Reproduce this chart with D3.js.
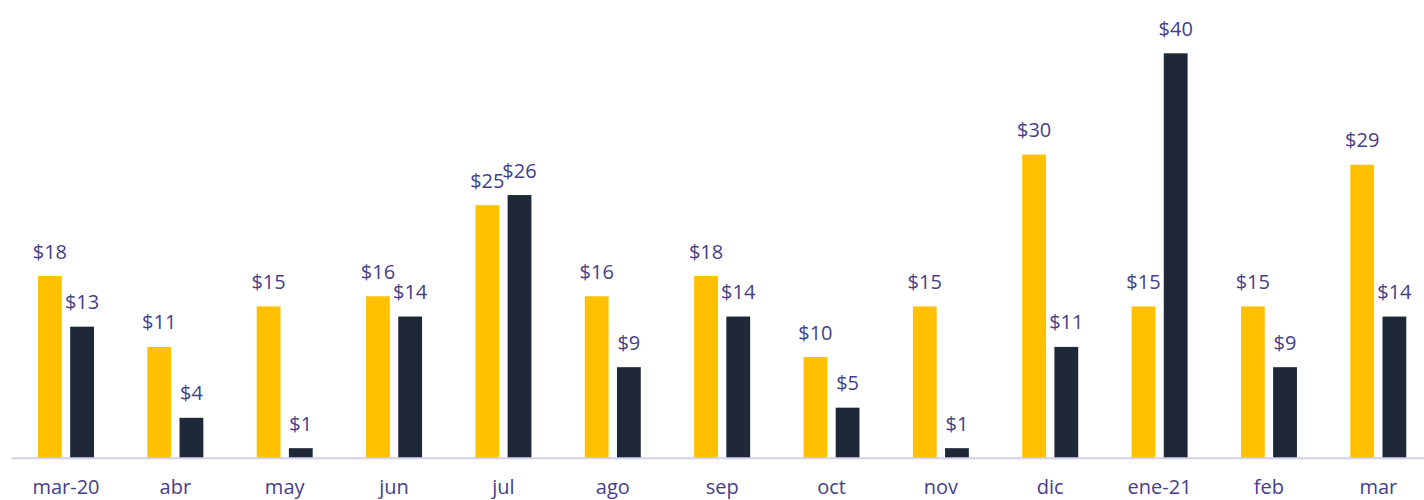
<!DOCTYPE html>
<html>
<head>
<meta charset="utf-8">
<script src="https://cdn.jsdelivr.net/npm/d3@7"></script>
<style>
  html, body { margin: 0; padding: 0; background: #ffffff; }
  svg { display: block; }
  text { font-family: "Open Sans", sans-serif; }
</style>
</head>
<body>
<svg id="chart" width="1424" height="500"></svg>
<script>
const categories = ["mar-20", "abr", "may", "jun", "jul", "ago", "sep", "oct", "nov", "dic", "ene-21", "feb", "mar"];
const seriesA = [18, 11, 15, 16, 25, 16, 18, 10, 15, 30, 15, 15, 29];
const seriesB = [13, 4, 1, 14, 26, 9, 14, 5, 1, 11, 40, 9, 14];
const seriesNames = ["A", "B"];
const colors = ["#FFC000", "#1E2837"];

const svg = d3.select("#chart");
const baseline = 458.3;
const x = d3.scaleBand().domain(categories).range([11.3, 11.3 + 13 * 109.36]).paddingInner(0).paddingOuter(0);
const xs = d3.scaleBand().domain(seriesNames).range([-(24.4 + 3.6), 24.4 + 3.6]).paddingInner(0.26);
const y = d3.scaleLinear().domain([0, 40]).range([baseline, 53.3]);

const data = categories.map((c, i) => ({ cat: c, vals: [seriesA[i], seriesB[i]] }));

const g = svg.append("g");
data.forEach(d => {
  const cx = x(d.cat) + x.bandwidth() / 2;
  d.vals.forEach((v, j) => {
    const bx = cx + xs(seriesNames[j]);
    g.append("rect")
      .attr("x", bx)
      .attr("y", y(v))
      .attr("width", xs.bandwidth())
      .attr("height", baseline - y(v))
      .attr("fill", colors[j]);
    g.append("text")
      .attr("x", bx + xs.bandwidth() / 2)
      .attr("y", y(v) - 17.5)
      .attr("text-anchor", "middle")
      .attr("font-size", 20)
      .attr("fill", "#463E88")
      .text("$" + v);
  });
});

// axis
const axis = d3.axisBottom(x).tickSize(0).tickPadding(0);
const ax = svg.append("g").attr("transform", `translate(0,${baseline})`).call(axis);
ax.select(".domain").attr("d", `M11.3,0H1424`).attr("stroke", "#D3D0EA").attr("stroke-width", 2);
ax.selectAll("text")
  .attr("y", 36)
  .attr("dy", 0)
  .attr("font-size", 20)
  .attr("font-family", "Open Sans, sans-serif")
  .attr("fill", "#463E88");
</script>
</body>
</html>
